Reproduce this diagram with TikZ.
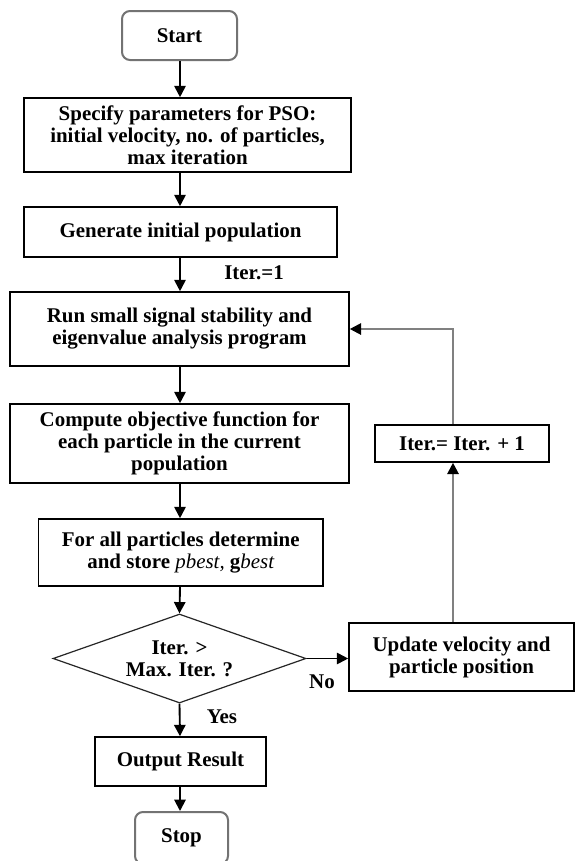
\documentclass[tikz,border=0pt]{standalone}
\usepackage{fontspec}
\setmainfont{Liberation Serif}
\usetikzlibrary{arrows.meta,shapes.geometric}
\begin{document}
\begin{tikzpicture}[x=0.75pt,y=-0.75pt,
  txt/.style={font=\bfseries\fontsize{15.7}{16.5}\selectfont},
  box/.style={txt, draw=black, line width=1.2pt, fill=white, align=center, inner sep=0pt},
  term/.style={box, draw=black!55, rounded corners=6pt, line width=1.5pt},
  dec/.style={txt, draw=black!85, line width=0.9pt, shape=diamond, shape aspect=2.84, align=center, inner sep=0pt},
  arr/.style={line width=1.4pt, -{Triangle[length=8.5pt,width=8.5pt]}},
  fb/.style={line width=1.6pt, draw=black!50, -{Triangle[length=8.5pt,width=8.5pt,color=black]}},
  lbl/.style={txt, inner sep=0pt}
]
\fill[white] (0,0) rectangle (575,861);
\useasboundingbox (0,0) rectangle (575,861);
\coordinate (ax) at (180,0);
\coordinate (fbx) at (453,0);

\node[term, minimum width=86.25pt, minimum height=36.75pt] (start) at (179.5,35.5) {Start};
\node[box, minimum width=245.25pt, minimum height=55.5pt] (spec) at (187.5,135) {Specify parameters for PSO:\\initial velocity, no. of particles,\\max iteration};
\node[box, minimum width=234.75pt, minimum height=37.5pt] (gen) at (180.5,232) {Generate initial population};
\node[box, minimum width=254.25pt, minimum height=55.5pt] (run) at (179.5,329) {Run small signal stability and\\eigenvalue analysis program};
\node[box, minimum width=254.25pt, minimum height=59.25pt] (comp) at (179.5,443.5) {Compute objective function for\\each particle in the current\\population};
\node[box, minimum width=213.4pt, minimum height=50.25pt] (best) at (180.75,552.5) {For all particles determine\\and store {\mdseries\itshape pbest,} g{\mdseries\itshape best}};
\node[dec, minimum width=189.75pt, minimum height=66.75pt] (dec) at (179.5,658.5) {Iter. >\\Max. Iter. ?};
\node[box, minimum width=168.75pt, minimum height=51pt] (upd) at (461.5,657) {Update velocity and\\particle position};
\node[box, minimum width=130.5pt, minimum height=27.75pt] (inc) at (462,443.5) {Iter.= Iter. + 1};
\node[box, minimum width=128.25pt, minimum height=36.75pt] (out) at (180.5,761.5) {Output Result};
\node[term, minimum width=69.75pt, minimum height=39pt] (stop) at (181.5,838) {Stop};

\node[lbl] (it1) at (254,273) {Iter.=1};
\node[lbl] (no) at (322,682) {No};
\node[lbl] (yes) at (222,717) {Yes};

\draw[arr] (ax |- start.south) -- (ax |- spec.north);
\draw[arr] (ax |- spec.south) -- (ax |- gen.north);
\draw[arr] (ax |- gen.south) -- (ax |- run.north);
\draw[arr] (ax |- run.south) -- (ax |- comp.north);
\draw[arr] (ax |- comp.south) -- (ax |- best.north);
\draw[arr] (ax |- best.south) -- (dec.north);
\draw[arr] (dec.east) -- (upd.west |- dec.east);
\draw[fb] (fbx |- upd.north) -- (fbx |- inc.south);
\draw[fb] (fbx |- inc.north) |- (run.east);
\draw[arr] (dec.south) -- (ax |- out.north);
\draw[arr] (ax |- out.south) -- (ax |- stop.north);
\end{tikzpicture}
\end{document}
